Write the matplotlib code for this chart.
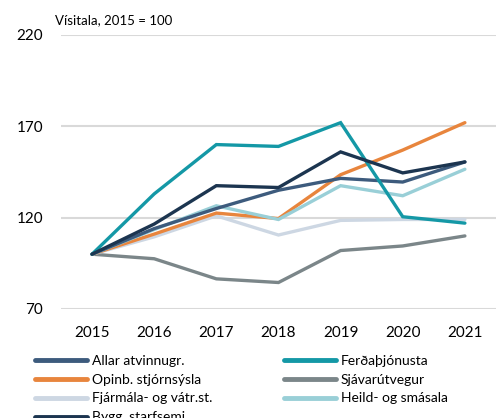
import matplotlib.pyplot as plt

years = ["2015", "2016", "2017", "2018", "2019", "2020", "2021"]

allar = [100, 114, 125, 135, 141.5, 139.5, 150.5]
ferda = [100, 133, 160, 159, 172, 120.5, 117]
opinb = [100, 111, 122.5, 119.5, 143.5, 157, 172]
sjavar = [100, 97.5, 86.5, 84.5, 102, 104.5, 110]
fjarmal = [100, 109.5, 121, 110.5, 118.5, 119, 119]
heild = [100, 113.5, 126.5, 119, 137.5, 132, 146.5]
bygg = [100, 116.5, 137.5, 136.5, 156, 144.5, 150.5]

plt.rcParams['font.family'] = ['Lato', 'DejaVu Sans']

fig = plt.figure(figsize=(4.99, 4.18), dpi=100)
ax = fig.add_axes([0.1222, 0.2608, 0.8717, 0.6555])

x = range(len(years))
lw = 2.4
# order matters for what sits on top
series = [
    ("Sjávarútvegur", sjavar, "#7b8689"),
    ("Fjármála- og vátr.st.", fjarmal, "#cdd7e3"),
    ("Opinb. stjórnsýsla", opinb, "#e8853d"),
    ("Heild- og smásala", heild, "#99cfd7"),
    ("Allar atvinnugr.", allar, "#3d5b7d"),
    ("Ferðaþjónusta", ferda, "#1498a6"),
    ("Bygg. starfsemi", bygg, "#1c3550"),
]
lines = {}
for name, vals, col in series:
    lines[name], = ax.plot(x, vals, color=col, lw=lw, label=name,
                           solid_joinstyle='miter', solid_capstyle='round')

ax.set_xlim(-0.5, 6.5)
ax.set_ylim(70, 220)
ax.set_yticks([70, 120, 170, 220])
ax.set_xticks(list(x))
ax.set_xticklabels(years)
ax.tick_params(length=0, labelsize=11, colors="#000000")
ax.tick_params(axis='y', pad=13)
ax.tick_params(axis='x', pad=12)
ax.grid(axis='y', color="#d9d9d9", lw=1.5)
ax.set_axisbelow(True)
for s in ax.spines.values():
    s.set_visible(False)

fig.text(0.11, 0.952, "Vísitala, 2015 = 100", fontsize=9.5, va='center')

order = ["Allar atvinnugr.", "Opinb. stjórnsýsla", "Fjármála- og vátr.st.",
         "Bygg. starfsemi", "Ferðaþjónusta", "Sjávarútvegur", "Heild- og smásala"]
leg = fig.legend([lines[n] for n in order], order, ncol=2, loc='upper left',
                 bbox_to_anchor=(0.06, 0.165), frameon=False, fontsize=10,
                 handlelength=3.7, handletextpad=0.35, labelspacing=0.5,
                 columnspacing=5.2, borderaxespad=0)
for h in leg.get_lines():
    h.set_linewidth(3.5)

fig.savefig("out.png", dpi=100)
